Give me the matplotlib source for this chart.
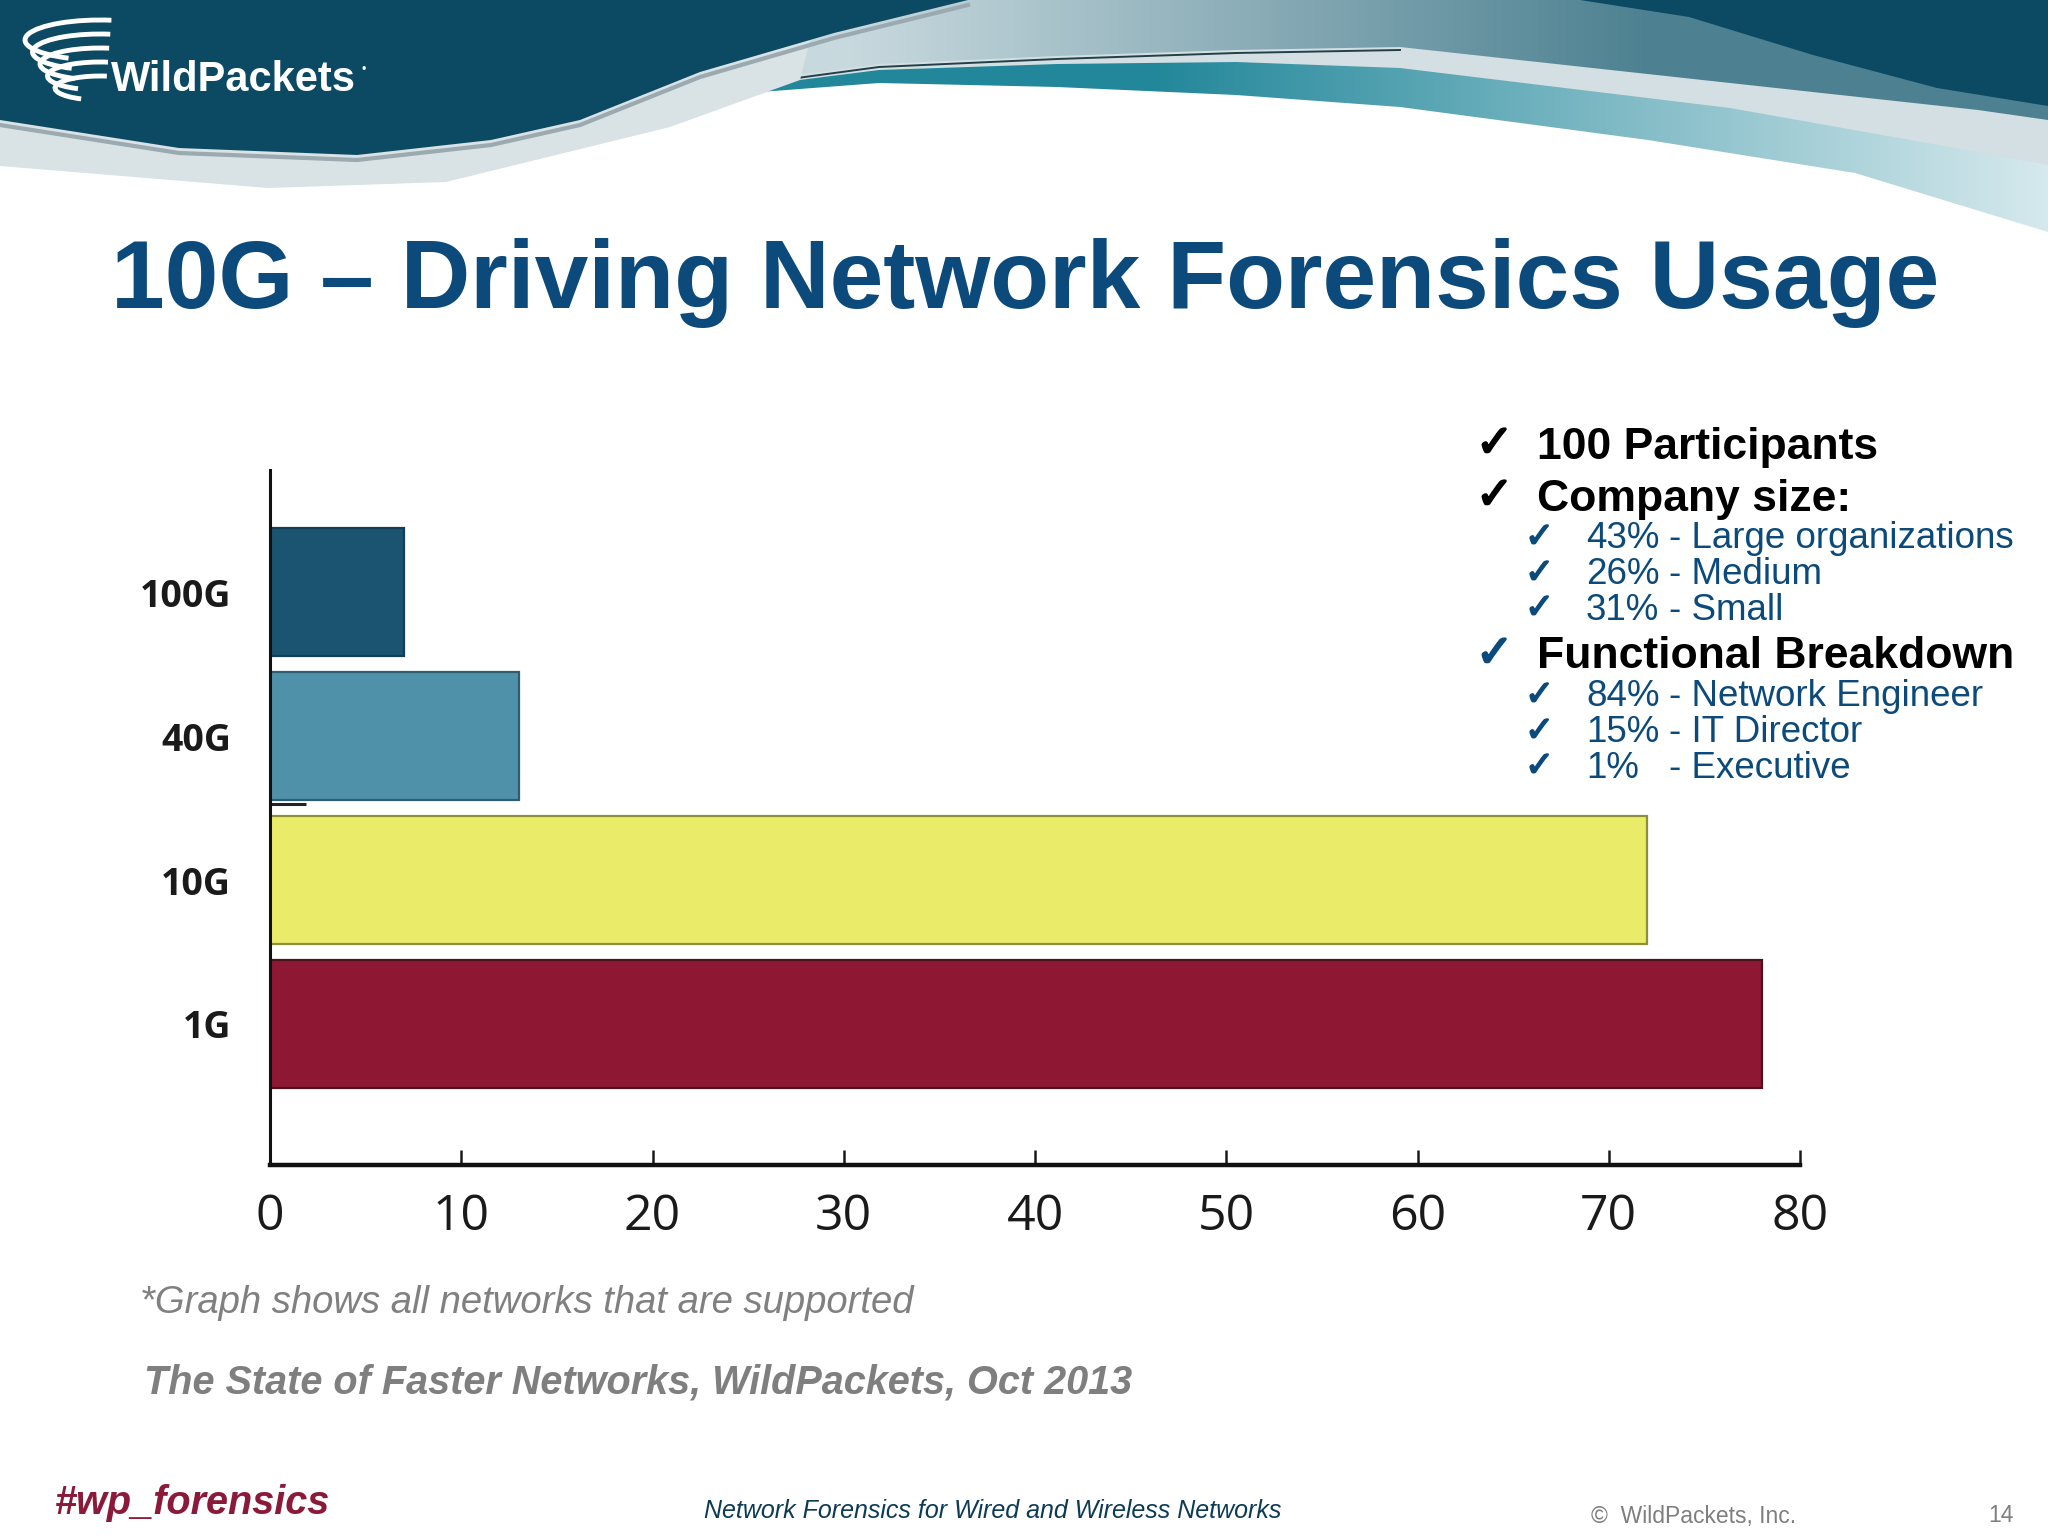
import matplotlib
matplotlib.use('Agg')
import matplotlib.pyplot as plt
from matplotlib.patches import Polygon, Arc
from matplotlib.colors import LinearSegmentedColormap
import matplotlib.patheffects as pe
import numpy as np

# chart data
categories = ['1G', '10G', '40G', '100G']
values = [78, 72, 13, 7]
bar_colors = ['#8E1833', '#EBEB6A', '#5091AA', '#1A5470']
edge_colors = ['#4C1220', '#8F8F3A', '#2E5D70', '#123F55']
xticks = [0, 10, 20, 30, 40, 50, 60, 70, 80]

# side notes
main_points = ['100 Participants', 'Company size:', 'Functional Breakdown']
size_pct = ['43%', '26%', '31%']
size_txt = ['- Large organizations', '- Medium', '- Small']
role_pct = ['84%', '15%', '1%']
role_txt = ['- Network Engineer', '- IT Director', '- Executive']

SANS = ['Liberation Sans', 'DejaVu Sans']
TICKF = ['Open Sans', 'DejaVu Sans']
BLUE = '#0B4A7A'
DARK = '#0C4A63'

fig = plt.figure(figsize=(20.48, 15.36), dpi=100)
fig.patch.set_facecolor('white')

# background layer in pixel coordinates
bg = fig.add_axes([0, 0, 1, 1], zorder=0)
bg.axis('off')

def poly(pts, color, z=1):
    p = Polygon(pts, closed=True, facecolor=color, edgecolor='none', zorder=z)
    bg.add_patch(p)
    return p

def grad_fill(pts, c0, c1, x0, x1, z):
    p = Polygon(pts, closed=True, facecolor='none', edgecolor='none', zorder=z)
    bg.add_patch(p)
    xa = min(q[0] for q in pts)
    xb = max(q[0] for q in pts)
    xs = np.linspace(xa, xb, 512)
    g = np.clip((xs - x0) / (x1 - x0), 0, 1)[None, :]
    cm = LinearSegmentedColormap.from_list('g', [c0, c1])
    im = bg.imshow(g, cmap=cm, vmin=0, vmax=1, aspect='auto',
                   extent=[xa, xb, 300, 0], zorder=z, interpolation='bilinear')
    im.set_clip_path(p)

# header: teal band down to the white edge
W = [(2048, 232), (1855, 173), (1648, 140), (1400, 107), (1236, 95), (1057, 87),
     (879, 83), (760, 92), (650, 115)]
grad_fill([(650, 0), (2048, 0)] + W, '#22879A', '#D5E9ED', 1150, 2048, 2)

# striped silver band on the right
S = [(2048, 165), (1978, 152), (1730, 108), (1400, 68), (1236, 62), (1057, 64),
     (879, 70), (760, 85)]
poly([(650, 0), (2048, 0)] + S, '#D3DFE2', 3)

# textured region
T = [(2048, 120), (1978, 110), (1730, 83), (1400, 47), (1236, 50), (1057, 56),
     (879, 64), (760, 80), (650, 105)]
grad_fill([(650, 0), (2048, 0)] + T, '#C8D9DE', '#4D8191', 850, 1650, 4)
bg.plot([q[0] for q in T[3:]], [q[1] + 3 for q in T[3:]], color='#23404A', lw=1.4, zorder=5)

# silver swoosh under the left dark region
S2 = [(800, 80), (670, 127), (446, 182), (268, 188), (0, 166)]
poly([(0, 0), (820, 0)] + S2, '#D9E2E5', 5)

# dark regions
D = [(968, 0), (834, 33), (700, 72), (580, 120), (491, 140), (357, 155), (179, 148), (0, 120)]
bg.plot([q[0] for q in D], [q[1] + 5 for q in D], color='#9AAAB0', lw=3, zorder=5)
poly([(0, 0)] + D, DARK, 6)
poly([(1580, 0), (2048, 0), (2048, 106), (1937, 88), (1813, 55), (1689, 17)], DARK, 6)

# logo
for i, (w, h) in enumerate([(150, 40), (135, 36), (120, 32), (105, 28), (90, 24)]):
    bg.add_patch(Arc((100, 40 + i * 12), w, h, theta1=150, theta2=300,
                     color='white', lw=3.5, zorder=7))
bg.text(111, 80, 'WildPackets', color='white', fontsize=30, fontweight='bold',
        family=SANS, va='center', ha='left', zorder=8)
bg.text(362, 70, '\u2022', color='white', fontsize=9, family=SANS, va='center', zorder=8)

# title
bg.text(111, 283, '10G \u2013 Driving Network Forensics Usage', color=BLUE,
        fontsize=69.5, fontweight='bold', family=SANS, va='center', ha='left', zorder=8)

# bar chart
ax = fig.add_axes([270 / 2048, 1 - 1165 / 1536, 1530 / 2048, 695 / 1536], zorder=2)
ax.patch.set_alpha(0)
pos = np.arange(len(categories))
ax.barh(pos, values, height=0.89, color=bar_colors, edgecolor=edge_colors, linewidth=1.6)
ax.set_xlim(0, 80)
ax.set_ylim(-0.98, 3.85)
ax.set_yticks(pos)
ax.set_yticklabels(categories, family=TICKF, fontsize=27, fontweight='bold', color='#1A1A1A')
ax.set_yticks([1.53], minor=True)
ax.set_xticks(xticks)
ax.set_xticklabels([str(t) for t in xticks], family=TICKF, fontsize=36, color='#1A1A1A')
ax.tick_params(axis='y', which='major', length=0, pad=28)
ax.tick_params(axis='y', which='minor', direction='in', length=26, width=2.2, color='#222222')
ax.tick_params(axis='x', direction='in', length=11, width=1.8, color='#1A1A1A', pad=20)
for s in ['top', 'right']:
    ax.spines[s].set_visible(False)
ax.spines['left'].set_linewidth(2.2)
ax.spines['bottom'].set_linewidth(3.2)
ax.spines['left'].set_color('#111111')
ax.spines['bottom'].set_color('#111111')

# side notes
y_main = [447, 499, 657]
for y, t in zip(y_main, main_points):
    ck_col = BLUE if t.startswith('Functional') else 'black'
    bg.text(1476, y - 3, '\u2713', color=ck_col, fontsize=32, family=['DejaVu Sans'],
            va='center', ha='left', zorder=8,
            path_effects=[pe.withStroke(linewidth=1.6, foreground=ck_col)])
    bg.text(1537, y, t, color='black', fontsize=32, fontweight='bold', family=SANS,
            va='center', ha='left', zorder=8)

for ys, pcts, txts in [([539, 575, 610], size_pct, size_txt),
                       ([697, 733, 768], role_pct, role_txt)]:
    for y, p, t in zip(ys, pcts, txts):
        bg.text(1525, y - 2, '\u2713', color=BLUE, fontsize=25, family=['DejaVu Sans'],
                va='center', ha='left', zorder=8,
                path_effects=[pe.withStroke(linewidth=1.2, foreground=BLUE)])
        bg.text(1586, y, p, color=BLUE, fontsize=26.5, family=SANS, va='center', ha='left', zorder=8)
        bg.text(1669, y, t, color=BLUE, fontsize=26.5, family=SANS, va='center', ha='left', zorder=8)

# notes and footer
bg.text(140, 1303, '*Graph shows all networks that are supported', color='#808080',
        fontsize=27.5, style='italic', family=SANS, va='center', ha='left', zorder=8)
bg.text(144, 1382, 'The State of Faster Networks, WildPackets, Oct 2013', color='#7F7F7F',
        fontsize=28.5, style='italic', fontweight='bold', family=SANS, va='center', ha='left', zorder=8)
bg.text(55, 1503, '#wp_forensics', color='#8B1A3A', fontsize=28.5, style='italic',
        fontweight='bold', family=SANS, va='center', ha='left', zorder=8)
bg.text(993, 1511, 'Network Forensics for Wired and Wireless Networks', color='#0B3B55',
        fontsize=18, style='italic', family=SANS, va='center', ha='center', zorder=8)
bg.text(1591, 1516, '\u00a9  WildPackets, Inc.', color='#7F7F7F', fontsize=16.5,
        family=SANS, va='center', ha='left', zorder=8)
bg.text(2001, 1516, '14', color='#7F7F7F', fontsize=16.5, family=SANS,
        va='center', ha='center', zorder=8)

bg.set_xlim(0, 2048)
bg.set_ylim(1536, 0)

fig.savefig('out.png', dpi=100)
